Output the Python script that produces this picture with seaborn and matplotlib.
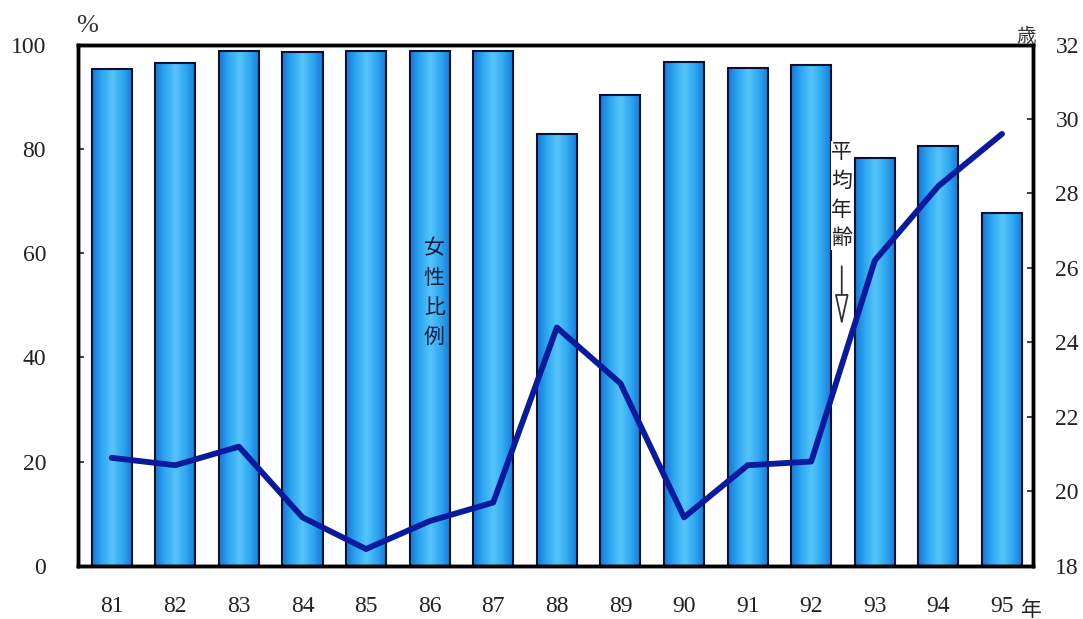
import numpy as np
import pandas as pd
import matplotlib
matplotlib.use("Agg")
import matplotlib.pyplot as plt
from matplotlib.colors import LinearSegmentedColormap
import seaborn as sns

years = ["81", "82", "83", "84", "85", "86", "87", "88", "89", "90", "91", "92", "93", "94", "95"]
female_pct = [95.4, 96.4, 98.8, 98.5, 98.8, 98.8, 98.8, 82.9, 90.4, 96.7, 95.6, 96.0, 78.3, 80.6, 67.6]
mean_age = [20.9, 20.7, 21.2, 19.3, 18.45, 19.2, 19.7, 24.4, 22.9, 19.3, 20.7, 20.8, 26.2, 28.2, 29.6]

sns.set_theme(style="white")
plt.rcParams['font.family'] = ['Liberation Serif', 'Noto Sans CJK JP', 'DejaVu Sans']

df = pd.DataFrame({"year": years, "pct": female_pct, "age": mean_age})

fig = plt.figure(figsize=(10.83, 6.19), dpi=100)
ax = fig.add_axes([0.072, 0.086, 0.882, 0.842])

sns.barplot(data=df, x="year", y="pct", ax=ax, color="#1E96EA", width=0.63,
            edgecolor="#0a1030", linewidth=1.5, saturation=1)

# gradient fill inside each bar
cmap = LinearSegmentedColormap.from_list("g", ["#1478D8", "#2FA8F2", "#55C4F8", "#2FA8F2", "#1478D8"])
grad = np.linspace(0, 1, 256).reshape(1, -1)
for p in list(ax.patches):
    x0, y0 = p.get_x(), p.get_y()
    w, h = p.get_width(), p.get_height()
    im = ax.imshow(grad, cmap=cmap, aspect="auto", extent=[x0, x0 + w, y0, y0 + h],
                   zorder=p.get_zorder() - 0.1)
    im.set_clip_path(p)
    p.set_facecolor("none")
    p.set_zorder(2)

ax.set_xlim(-0.53, 14.49)
ax.set_ylim(0, 100)
ax.set_yticks([0, 20, 40, 60, 80, 100])
ax.set_xlabel("")
ax.set_ylabel("")
ax.tick_params(axis="y", labelsize=17, direction="in", length=4, left=True, pad=23,
               labelcolor="#222222")
ax.tick_params(axis="x", labelsize=17, length=0, pad=22, labelcolor="#222222")
for s in ax.spines.values():
    s.set_linewidth(2.5)
    s.set_color("black")

ax2 = ax.twinx()
sns.lineplot(x=np.arange(len(years)), y=df["age"], ax=ax2, color="#0A1A9C", linewidth=4.2)
ax2.set_ylim(18, 32)
ax2.set_yticks([18, 20, 22, 24, 26, 28, 30, 32])
ax2.set_ylabel("")
ax2.tick_params(axis="y", labelsize=17, direction="in", length=4, right=True, pad=16,
                labelcolor="#222222")
for s in ax2.spines.values():
    s.set_linewidth(2.5)
    s.set_color("black")
ax.set_xlim(-0.53, 14.49)

cjk = ['Noto Sans CJK JP', 'DejaVu Sans']
fig.text(0.070, 0.948, "%", fontsize=19, family=['Liberation Serif'], color="#333333")
fig.text(0.938, 0.932, "歳", fontsize=14, family=cjk, color="#333333")
fig.text(0.943, 0.005, "年", fontsize=15, family=cjk, color="#222222")

ax.text(5.07, 63, "女\n性\n比\n例", fontsize=15, family=cjk, color="#0a1a40",
        ha="center", va="top", linespacing=1.45)
ax.text(11.48, 81.5, "平\n均\n年\n齢", fontsize=15, family=cjk, color="#222222",
        ha="center", va="top", linespacing=1.4,
        bbox=dict(facecolor="white", edgecolor="none", pad=0.3))
ax.annotate("", xy=(11.48, 45.5), xytext=(11.48, 58),
            arrowprops=dict(arrowstyle="-|>,head_length=1.6,head_width=0.35", color="#333333",
                            lw=1.3, fc="white"))

fig.savefig("out.png", dpi=100, facecolor="white")
